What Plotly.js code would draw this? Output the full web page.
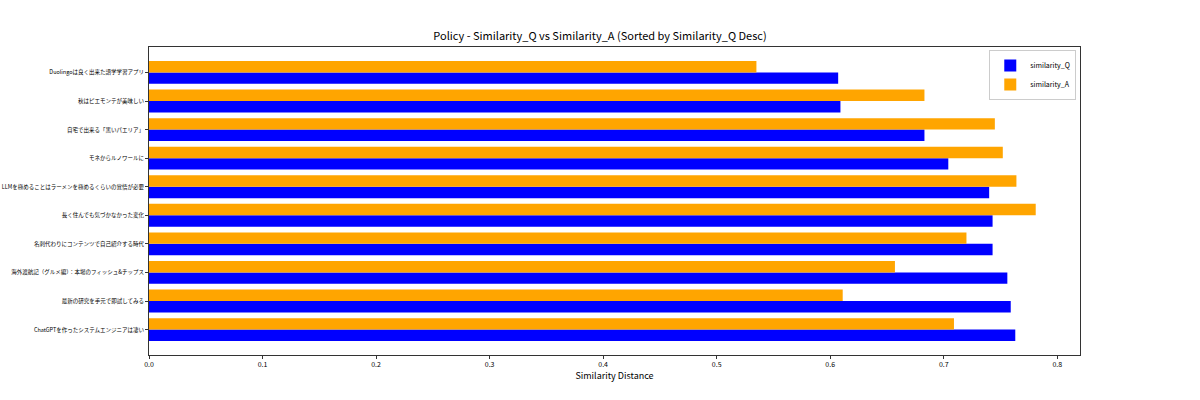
<!DOCTYPE html>
<html>
<head>
<meta charset="utf-8">
<script src="https://cdn.plot.ly/plotly-3.0.1.min.js"></script>
<style>
  html, body { margin: 0; padding: 0; background: #fff; }
  #chart { width: 1200px; height: 400px; }
</style>
</head>
<body>
<div id="chart"></div>
<script>
// top to bottom, as shown in the chart
var titles = [
    "Duolingoは良く出来た語学学習アプリ",
    "秋はピエモンテが美味しい",
    "自宅で出来る「黒いパエリア」",
    "モネからルノワールに",
    "LLMを極めることはラーメンを極めるくらいの覚悟が必要",
    "長く住んでも気づかなかった変化",
    "名刺代わりにコンテンツで自己紹介する時代",
    "海外渡航記（グルメ編）：本場のフィッシュ&チップス",
    "最新の研究を手元で即試してみる",
    "ChatGPTを作ったシステムエンジニアは凄い"
];
var similarityQ = [0.607, 0.609, 0.683, 0.704, 0.740, 0.743, 0.743, 0.756, 0.759, 0.763];
var similarityA = [0.535, 0.683, 0.745, 0.752, 0.764, 0.781, 0.720, 0.657, 0.611, 0.709];
var xTicks = [0.0, 0.1, 0.2, 0.3, 0.4, 0.5, 0.6, 0.7, 0.8];

var font = "Noto Sans CJK JP, Noto Sans, sans-serif";

var data = [
    {
        type: "bar",
        orientation: "h",
        name: "similarity_Q",
        y: titles,
        x: similarityQ,
        marker: { color: "#0000ff" }
    },
    {
        type: "bar",
        orientation: "h",
        name: "similarity_A",
        y: titles,
        x: similarityA,
        marker: { color: "#ffa500" }
    }
];

var layout = {
    width: 1200,
    height: 400,
    margin: { l: 149, r: 120, t: 47, b: 45 },
    paper_bgcolor: "#fff",
    plot_bgcolor: "#fff",
    font: { family: font, size: 7, color: "#000" },
    title: {
        text: "Policy - Similarity_Q vs Similarity_A (Sorted by Similarity_Q Desc)",
        font: { family: font, size: 11, color: "#000" },
        x: 0.5, xanchor: "center",
        y: 1 - 40 / 400, yanchor: "bottom"
    },
    barmode: "group",
    bargap: 0.2,
    bargroupgap: 0,
    showlegend: true,
    legend: {
        x: 0.996, xanchor: "right",
        y: 0.99, yanchor: "top",
        bgcolor: "rgba(255,255,255,0.8)",
        bordercolor: "#cccccc",
        borderwidth: 1,
        font: { family: font, size: 7, color: "#000" },
        itemwidth: 30,
        tracegroupgap: 0
    },
    xaxis: {
        range: [0, 0.820],
        tickvals: xTicks,
        ticktext: xTicks.map(function (v) { return v.toFixed(1); }),
        ticks: "outside",
        ticklen: 3,
        tickwidth: 0.8,
        tickcolor: "#000",
        showgrid: false,
        zeroline: false,
        showline: true,
        linecolor: "#000",
        linewidth: 0.8,
        mirror: true,
        tickfont: { family: font, size: 7, color: "#000" },
        title: {
            text: "Similarity Distance",
            font: { family: font, size: 9, color: "#000" },
            standoff: 4
        }
    },
    yaxis: {
        type: "category",
        categoryorder: "array",
        categoryarray: titles.slice().reverse(),
        range: [-0.89, 9.89],
        ticks: "outside",
        ticklen: 3,
        tickwidth: 0.8,
        tickcolor: "#000",
        showgrid: false,
        zeroline: false,
        showline: true,
        linecolor: "#000",
        linewidth: 0.8,
        mirror: true,
        tickfont: { family: font, size: 5.5, color: "#000" }
    }
};

Plotly.newPlot("chart", data, layout, { displayModeBar: false, staticPlot: true });
</script>
</body>
</html>
